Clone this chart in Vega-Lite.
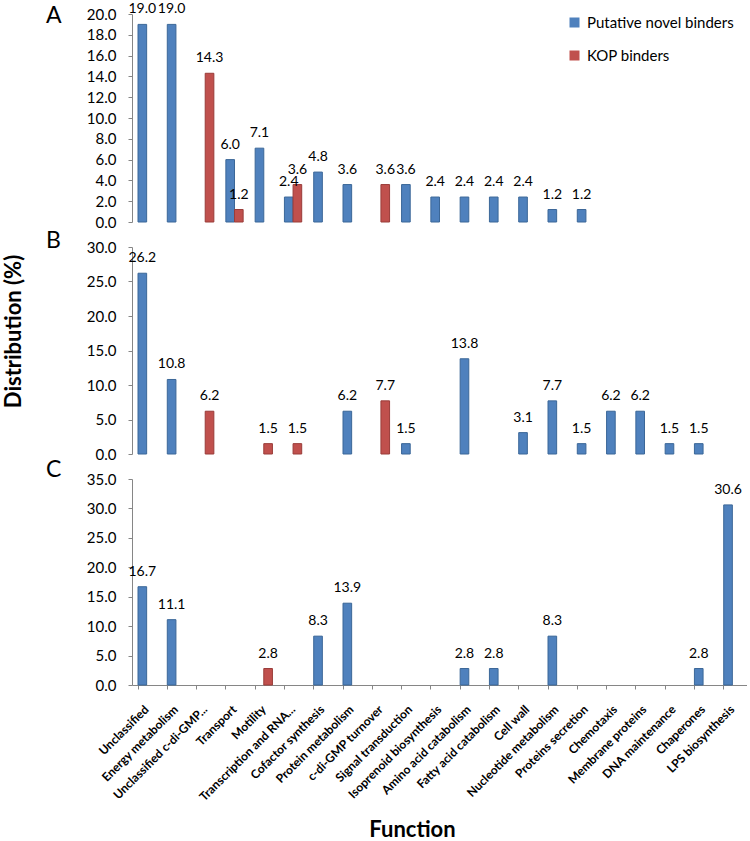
{
  "$schema": "https://vega.github.io/schema/vega-lite/v6.json",
  "padding": {"left": 2, "top": 2, "right": 0, "bottom": 0},
  "config": {
    "view": {"stroke": null},
    "font": "Lato",
    "axis": {"grid": false, "domainColor": "#868686", "tickColor": "#868686", "labelColor": "#000000", "labelFontSize": 15, "tickSize": 4},
    "axisY": {"labelPadding": 12, "labelOverlap": false},
    "title": {"fontSize": 23, "fontWeight": "normal", "anchor": "start", "frame": "group", "offset": 0, "baseline": "alphabetic", "dx": -86}
  },
  "datasets": {
    "d": [
      {"panel": "A", "func": "Unclassified", "series": "Putative novel binders", "value": 19.0},
      {"panel": "A", "func": "Energy metabolism", "series": "Putative novel binders", "value": 19.0},
      {"panel": "A", "func": "Unclassified c-di-GMP...", "series": "KOP binders", "value": 14.3},
      {"panel": "A", "func": "Transport", "series": "Putative novel binders", "value": 6.0},
      {"panel": "A", "func": "Transport", "series": "KOP binders", "value": 1.2},
      {"panel": "A", "func": "Motility", "series": "Putative novel binders", "value": 7.1},
      {"panel": "A", "func": "Transcription and RNA...", "series": "Putative novel binders", "value": 2.4},
      {"panel": "A", "func": "Transcription and RNA...", "series": "KOP binders", "value": 3.6},
      {"panel": "A", "func": "Cofactor synthesis", "series": "Putative novel binders", "value": 4.8},
      {"panel": "A", "func": "Protein metabolism", "series": "Putative novel binders", "value": 3.6},
      {"panel": "A", "func": "c-di-GMP turnover", "series": "KOP binders", "value": 3.6},
      {"panel": "A", "func": "Signal transduction", "series": "Putative novel binders", "value": 3.6},
      {"panel": "A", "func": "Isoprenoid biosynthesis", "series": "Putative novel binders", "value": 2.4},
      {"panel": "A", "func": "Amino acid catabolism", "series": "Putative novel binders", "value": 2.4},
      {"panel": "A", "func": "Fatty acid catabolism", "series": "Putative novel binders", "value": 2.4},
      {"panel": "A", "func": "Cell wall", "series": "Putative novel binders", "value": 2.4},
      {"panel": "A", "func": "Nucleotide metabolism", "series": "Putative novel binders", "value": 1.2},
      {"panel": "A", "func": "Proteins secretion", "series": "Putative novel binders", "value": 1.2},
      {"panel": "B", "func": "Unclassified", "series": "Putative novel binders", "value": 26.2},
      {"panel": "B", "func": "Energy metabolism", "series": "Putative novel binders", "value": 10.8},
      {"panel": "B", "func": "Unclassified c-di-GMP...", "series": "KOP binders", "value": 6.2},
      {"panel": "B", "func": "Motility", "series": "KOP binders", "value": 1.5},
      {"panel": "B", "func": "Transcription and RNA...", "series": "KOP binders", "value": 1.5},
      {"panel": "B", "func": "Protein metabolism", "series": "Putative novel binders", "value": 6.2},
      {"panel": "B", "func": "c-di-GMP turnover", "series": "KOP binders", "value": 7.7},
      {"panel": "B", "func": "Signal transduction", "series": "Putative novel binders", "value": 1.5},
      {"panel": "B", "func": "Amino acid catabolism", "series": "Putative novel binders", "value": 13.8},
      {"panel": "B", "func": "Cell wall", "series": "Putative novel binders", "value": 3.1},
      {"panel": "B", "func": "Nucleotide metabolism", "series": "Putative novel binders", "value": 7.7},
      {"panel": "B", "func": "Proteins secretion", "series": "Putative novel binders", "value": 1.5},
      {"panel": "B", "func": "Chemotaxis", "series": "Putative novel binders", "value": 6.2},
      {"panel": "B", "func": "Membrane proteins", "series": "Putative novel binders", "value": 6.2},
      {"panel": "B", "func": "DNA maintenance", "series": "Putative novel binders", "value": 1.5},
      {"panel": "B", "func": "Chaperones", "series": "Putative novel binders", "value": 1.5},
      {"panel": "C", "func": "Unclassified", "series": "Putative novel binders", "value": 16.7},
      {"panel": "C", "func": "Energy metabolism", "series": "Putative novel binders", "value": 11.1},
      {"panel": "C", "func": "Motility", "series": "KOP binders", "value": 2.8},
      {"panel": "C", "func": "Cofactor synthesis", "series": "Putative novel binders", "value": 8.3},
      {"panel": "C", "func": "Protein metabolism", "series": "Putative novel binders", "value": 13.9},
      {"panel": "C", "func": "Amino acid catabolism", "series": "Putative novel binders", "value": 2.8},
      {"panel": "C", "func": "Fatty acid catabolism", "series": "Putative novel binders", "value": 2.8},
      {"panel": "C", "func": "Nucleotide metabolism", "series": "Putative novel binders", "value": 8.3},
      {"panel": "C", "func": "Chaperones", "series": "Putative novel binders", "value": 2.8},
      {"panel": "C", "func": "LPS biosynthesis", "series": "Putative novel binders", "value": 30.6}
    ]
  },
  "data": {"name": "d"},
  "spacing": 25,
  "bounds": "flush",
  "vconcat": [
    {
      "title": {"text": "A", "dy": 30},
      "width": 615, "height": 208,
      "transform": [{"filter": "datum.panel === 'A'"}],
      "layer": [
        {
          "mark": {"type": "bar", "strokeWidth": 1},
          "encoding": {
            "x": {"field": "func", "type": "nominal", "sort": null,
              "scale": {"domain": ["Unclassified","Energy metabolism","Unclassified c-di-GMP...","Transport","Motility","Transcription and RNA...","Cofactor synthesis","Protein metabolism","c-di-GMP turnover","Signal transduction","Isoprenoid biosynthesis","Amino acid catabolism","Fatty acid catabolism","Cell wall","Nucleotide metabolism","Proteins secretion","Chemotaxis","Membrane proteins","DNA maintenance","Chaperones","LPS biosynthesis"], "paddingInner": 0.41, "paddingOuter": 0.205},
              "axis": {"bandPosition": 0, "labels": false, "title": null}},
            "xOffset": {"field": "series", "type": "nominal", "scale": {"domain": ["Putative novel binders", "KOP binders"]}},
            "y": {"field": "value", "type": "quantitative", "scale": {"domain": [0, 20]},
              "axis": {"values": [0,2,4,6,8,10,12,14,16,18,20], "tickCount": 11, "labelOverlap": false, "format": ".1f", "title": null}},
            "color": {"field": "series", "type": "nominal", "scale": {"domain": ["Putative novel binders", "KOP binders"], "range": ["#4F81BD", "#C0504D"]},
              "legend": {"orient": "none", "legendX": 435, "legendY": 1, "title": null, "symbolType": "square", "symbolSize": 100, "labelFontSize": 15, "rowPadding": 17, "labelOffset": 5, "symbolStrokeWidth": 0, "direction": "vertical"}},
            "stroke": {"field": "series", "type": "nominal", "scale": {"domain": ["Putative novel binders", "KOP binders"], "range": ["#3B6798", "#9A3C39"]}, "legend": null}
          }
        },
        {
          "mark": {"type": "text", "baseline": "alphabetic", "dy": -11, "fontSize": 14, "color": "#000000"},
          "encoding": {
            "x": {"field": "func", "type": "nominal", "sort": null, "axis": null},
            "xOffset": {"field": "series", "type": "nominal"},
            "y": {"field": "value", "type": "quantitative"},
            "text": {"field": "value", "type": "quantitative", "format": ".1f"}
          }
        }
      ]
    },
    {
      "title": {"text": "B", "dy": 17},
      "width": 615, "height": 207,
      "transform": [{"filter": "datum.panel === 'B'"}],
      "layer": [
        {
          "mark": {"type": "bar", "strokeWidth": 1},
          "encoding": {
            "x": {"field": "func", "type": "nominal", "sort": null,
              "scale": {"domain": ["Unclassified","Energy metabolism","Unclassified c-di-GMP...","Transport","Motility","Transcription and RNA...","Cofactor synthesis","Protein metabolism","c-di-GMP turnover","Signal transduction","Isoprenoid biosynthesis","Amino acid catabolism","Fatty acid catabolism","Cell wall","Nucleotide metabolism","Proteins secretion","Chemotaxis","Membrane proteins","DNA maintenance","Chaperones","LPS biosynthesis"], "paddingInner": 0.41, "paddingOuter": 0.205},
              "axis": {"bandPosition": 0, "labels": false, "title": null}},
            "xOffset": {"field": "series", "type": "nominal", "scale": {"domain": ["Putative novel binders", "KOP binders"]}},
            "y": {"field": "value", "type": "quantitative", "scale": {"domain": [0, 30]},
              "axis": {"values": [0,5,10,15,20,25,30], "tickCount": 7, "labelOverlap": false, "format": ".1f", "title": "Distribution (%)", "titleFontSize": 22, "titleFontWeight": "bold", "titleColor": "#000000", "titleX": -107, "titleY": 84}},
            "color": {"field": "series", "type": "nominal", "scale": {"domain": ["Putative novel binders", "KOP binders"], "range": ["#4F81BD", "#C0504D"]}},
            "stroke": {"field": "series", "type": "nominal", "scale": {"domain": ["Putative novel binders", "KOP binders"], "range": ["#3B6798", "#9A3C39"]}, "legend": null}
          }
        },
        {
          "mark": {"type": "text", "baseline": "alphabetic", "dy": -11, "fontSize": 14, "color": "#000000"},
          "encoding": {
            "x": {"field": "func", "type": "nominal", "sort": null, "axis": null},
            "xOffset": {"field": "series", "type": "nominal"},
            "y": {"field": "value", "type": "quantitative"},
            "text": {"field": "value", "type": "quantitative", "format": ".1f"}
          }
        }
      ]
    },
    {
      "title": {"text": "C", "dy": 14},
      "width": 615, "height": 206,
      "transform": [{"filter": "datum.panel === 'C'"}],
      "resolve": {"axis": {"x": "independent"}},
      "layer": [
        {
          "mark": {"type": "bar", "strokeWidth": 1},
          "encoding": {
            "x": {"field": "func", "type": "nominal", "sort": null,
              "scale": {"domain": ["Unclassified","Energy metabolism","Unclassified c-di-GMP...","Transport","Motility","Transcription and RNA...","Cofactor synthesis","Protein metabolism","c-di-GMP turnover","Signal transduction","Isoprenoid biosynthesis","Amino acid catabolism","Fatty acid catabolism","Cell wall","Nucleotide metabolism","Proteins secretion","Chemotaxis","Membrane proteins","DNA maintenance","Chaperones","LPS biosynthesis"], "paddingInner": 0.41, "paddingOuter": 0.205},
              "axis": {"orient": "bottom", "bandPosition": 0, "labels": false, "title": null}},
            "xOffset": {"field": "series", "type": "nominal", "scale": {"domain": ["Putative novel binders", "KOP binders"]}},
            "y": {"field": "value", "type": "quantitative", "scale": {"domain": [0, 35]},
              "axis": {"values": [0,5,10,15,20,25,30,35], "tickCount": 8, "labelOverlap": false, "format": ".1f", "title": null}},
            "color": {"field": "series", "type": "nominal", "scale": {"domain": ["Putative novel binders", "KOP binders"], "range": ["#4F81BD", "#C0504D"]}},
            "stroke": {"field": "series", "type": "nominal", "scale": {"domain": ["Putative novel binders", "KOP binders"], "range": ["#3B6798", "#9A3C39"]}, "legend": null}
          }
        },
        {
          "mark": {"type": "text", "baseline": "alphabetic", "dy": -11, "fontSize": 14, "color": "#000000"},
          "encoding": {
            "x": {"field": "func", "type": "nominal", "sort": null,
              "axis": {"orient": "bottom", "ticks": false, "domain": false, "labelAngle": -45, "labelAlign": "right", "labelBaseline": "middle", "labelFontSize": 12, "labelFontWeight": "bold", "labelPadding": 22, "title": "Function", "titleFontSize": 22, "titleFontWeight": "bold", "titleColor": "#000000", "titleX": 280, "titleY": 151, "titleBaseline": "alphabetic", "titleAlign": "center"}},
            "xOffset": {"field": "series", "type": "nominal"},
            "y": {"field": "value", "type": "quantitative"},
            "text": {"field": "value", "type": "quantitative", "format": ".1f"}
          }
        }
      ]
    }
  ]
}
